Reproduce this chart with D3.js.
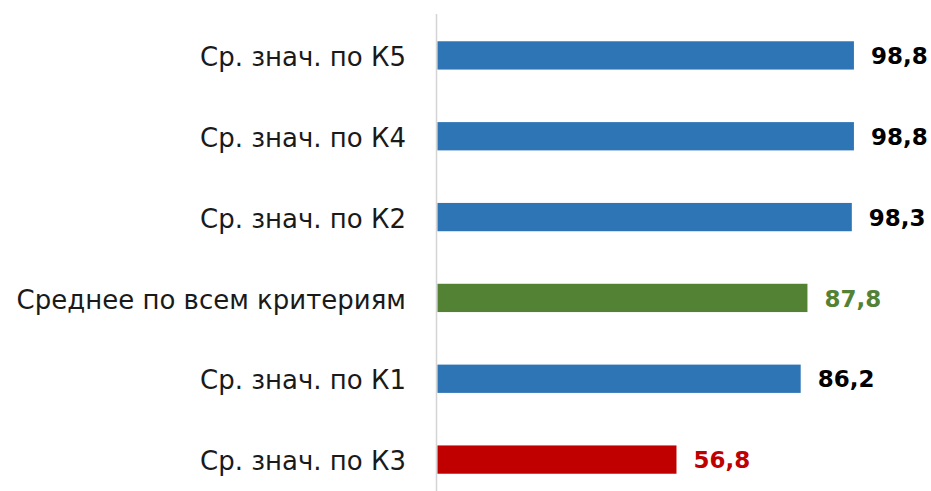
<!DOCTYPE html>
<html>
<head>
<meta charset="utf-8">
<script src="https://cdn.jsdelivr.net/npm/d3@7"></script>
<style>
  body { margin: 0; background: #fff; }
  .cat { font-family: "DejaVu Sans", sans-serif; font-size: 26px; fill: #1a1a1a; }
  .val { font-family: "DejaVu Sans", sans-serif; font-size: 23px; font-weight: bold; }
</style>
</head>
<body>
<div id="chart"></div>
<script>
// Data, top to bottom
var categories = ["Ср. знач. по К5", "Ср. знач. по К4", "Ср. знач. по К2",
                  "Среднее по всем критериям", "Ср. знач. по К1", "Ср. знач. по К3"];
var values = [98.8, 98.8, 98.3, 87.8, 86.2, 56.8];
var valueLabels = ["98,8", "98,8", "98,3", "87,8", "86,2", "56,8"];
var barColors = ["#2E75B6", "#2E75B6", "#2E75B6", "#548235", "#2E75B6", "#C00000"];
var labelColors = ["#000000", "#000000", "#000000", "#548235", "#000000", "#C00000"];

var svgWidth = 931;
var svgHeight = 491;

var svg = d3.select("#chart")
  .append("svg")
  .attr("width", svgWidth)
  .attr("height", svgHeight);

// Scales
var x = d3.scaleLinear().domain([0, 100]).range([436.5, 859]);
var y = d3.scaleBand().domain(categories).range([15, 500])
  .paddingInner(0.65)
  .paddingOuter(0.325);

// Vertical axis line
svg.append("line")
  .attr("x1", x(0)).attr("x2", x(0))
  .attr("y1", 14).attr("y2", svgHeight)
  .attr("stroke", "#d4d4d4")
  .attr("stroke-width", 1.5);

// Bars
svg.selectAll("rect.bar")
  .data(values)
  .enter()
  .append("rect")
  .attr("class", "bar")
  .attr("x", x(0) + 1)
  .attr("y", function(d, i) { return y(categories[i]); })
  .attr("width", function(d) { return x(d) - x(0) - 1; })
  .attr("height", y.bandwidth())
  .attr("fill", function(d, i) { return barColors[i]; });

// Category labels
svg.selectAll("text.cat")
  .data(categories)
  .enter()
  .append("text")
  .attr("class", "cat")
  .attr("x", 406)
  .attr("y", function(d) { return y(d) + y.bandwidth() / 2; })
  .attr("dy", "0.41em")
  .attr("text-anchor", "end")
  .text(function(d) { return d; });

// Value labels
svg.selectAll("text.val")
  .data(values)
  .enter()
  .append("text")
  .attr("class", "val")
  .attr("x", function(d) { return x(d) + 17; })
  .attr("y", function(d, i) { return y(categories[i]) + y.bandwidth() / 2; })
  .attr("dy", "0.38em")
  .attr("fill", function(d, i) { return labelColors[i]; })
  .text(function(d, i) { return valueLabels[i]; });
</script>
</body>
</html>
